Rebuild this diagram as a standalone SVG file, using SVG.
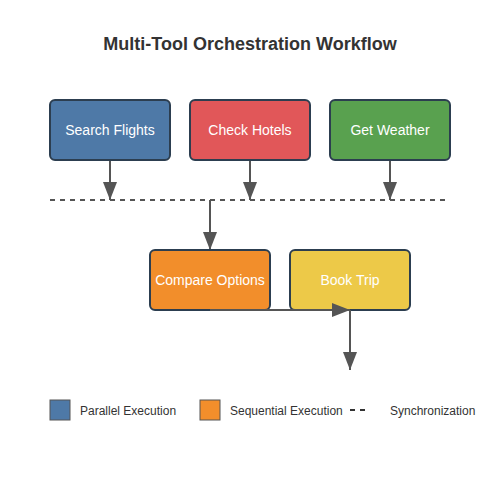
<svg xmlns="http://www.w3.org/2000/svg" width="500" height="500" viewBox="0 0 500 500">
<defs>
<marker id="arrow" viewBox="0 0 18 16" refX="18" refY="8" markerWidth="18" markerHeight="16" markerUnits="userSpaceOnUse" orient="auto">
<path d="M0,1 L18,8 L0,15 Z" fill="#555"/>
</marker>
</defs>
<style>
.node rect { stroke: #2c3e50; stroke-width: 2; }
.node text { font-family: "Liberation Sans", Arial, sans-serif; font-size: 14px; fill: #fff; text-anchor: middle; }
.conn { stroke: #555; stroke-width: 2; fill: none; }
.legend text { font-family: "Liberation Sans", Arial, sans-serif; font-size: 12px; fill: #333; }
</style>
<rect width="500" height="500" fill="#fff"/>
<text x="250" y="50" text-anchor="middle" font-family="'Liberation Sans', Arial, sans-serif" font-size="18" font-weight="bold" fill="#333">Multi-Tool Orchestration Workflow</text>
<g id="connectors">
<line class="conn" x1="110" y1="160" x2="110" y2="200" marker-end="url(#arrow)"/>
<line class="conn" x1="250" y1="160" x2="250" y2="200" marker-end="url(#arrow)"/>
<line class="conn" x1="390" y1="160" x2="390" y2="200" marker-end="url(#arrow)"/>
<line class="conn" x1="50" y1="200" x2="450" y2="200" stroke-dasharray="5,5"/>
<line class="conn" x1="210" y1="200" x2="210" y2="250" marker-end="url(#arrow)"/>
</g>
<g id="search-flights" class="node"><rect x="50" y="100" width="120" height="60" rx="5" fill="#4e79a7"/><text x="110" y="135">Search Flights</text></g>
<g id="check-hotels" class="node"><rect x="190" y="100" width="120" height="60" rx="5" fill="#e15759"/><text x="250" y="135">Check Hotels</text></g>
<g id="get-weather" class="node"><rect x="330" y="100" width="120" height="60" rx="5" fill="#59a14f"/><text x="390" y="135">Get Weather</text></g>
<g id="compare-options" class="node"><rect x="150" y="250" width="120" height="60" rx="5" fill="#f28e2b"/><text x="210" y="285">Compare Options</text></g>
<g id="book-trip" class="node"><rect x="290" y="250" width="120" height="60" rx="5" fill="#edc948"/><text x="350" y="285">Book Trip</text></g>
<g id="connectors2">
<line class="conn" x1="210" y1="310" x2="350" y2="310" marker-end="url(#arrow)"/>
<line class="conn" x1="350" y1="310" x2="350" y2="370" marker-end="url(#arrow)"/>
</g>
<g class="legend">
<rect x="50" y="400" width="20" height="20" fill="#4e79a7" stroke="#555" stroke-width="1"/>
<text x="80" y="415">Parallel Execution</text>
<rect x="200" y="400" width="20" height="20" fill="#f28e2b" stroke="#555" stroke-width="1"/>
<text x="230" y="415">Sequential Execution</text>
<line x1="350" y1="410" x2="365" y2="410" stroke="#333" stroke-width="2" stroke-dasharray="5,5"/>
<text x="390" y="415">Synchronization</text>
</g>
</svg>
